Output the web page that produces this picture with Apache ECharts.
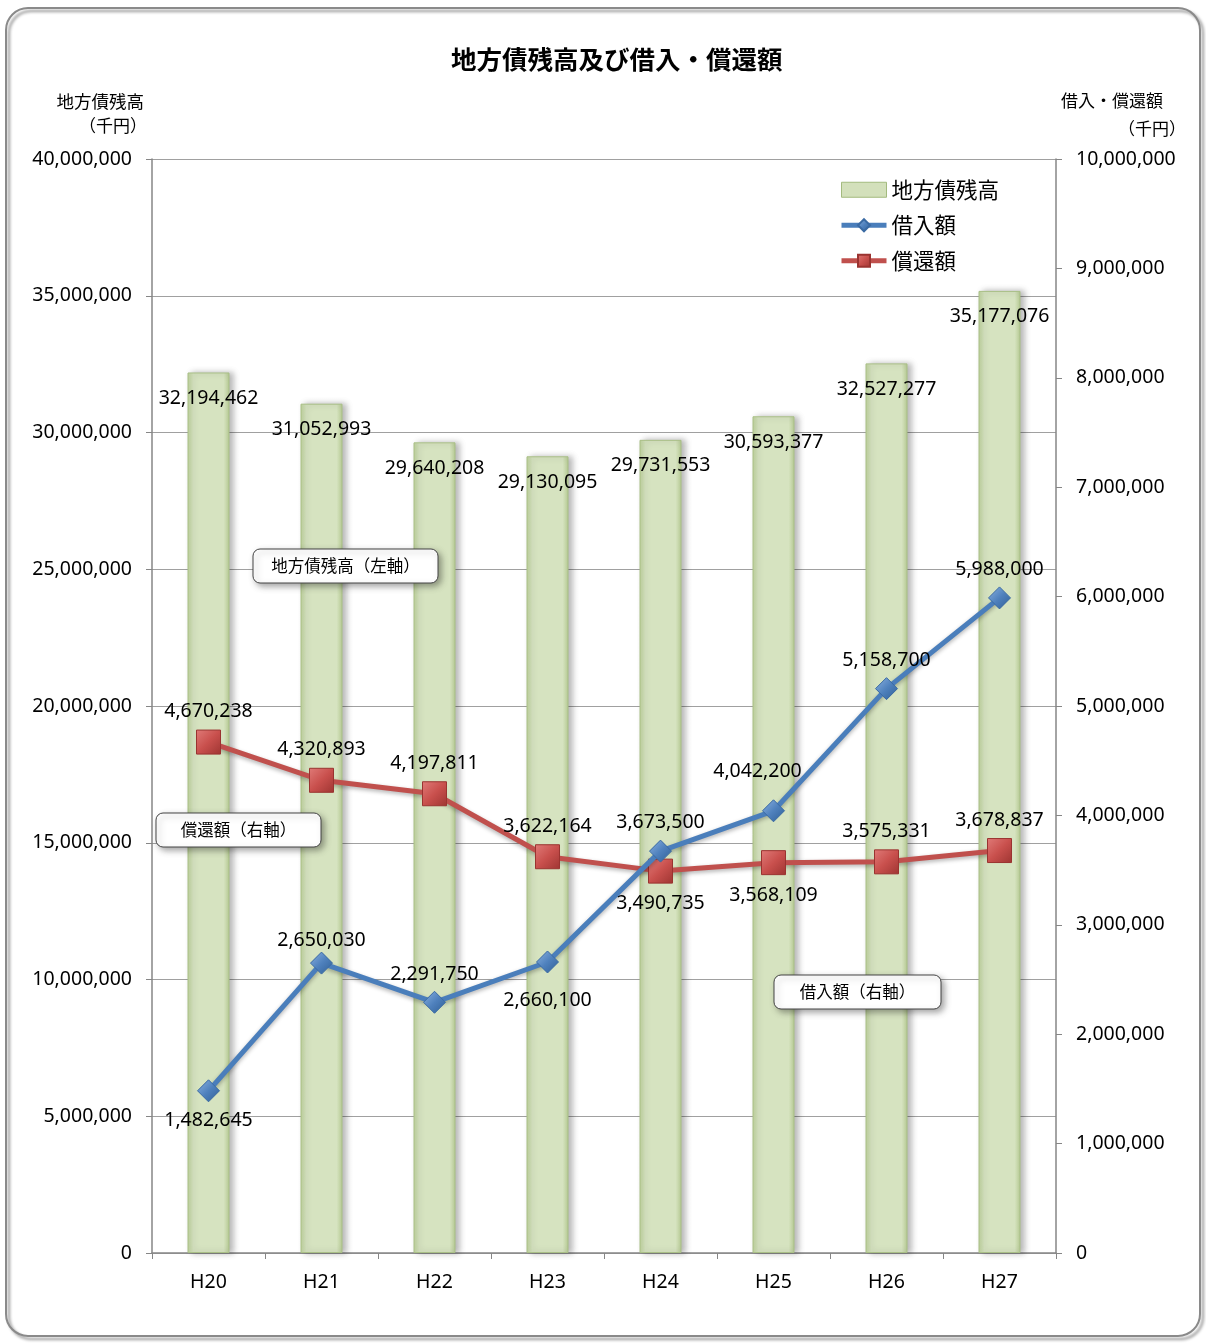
<!DOCTYPE html>
<html>
<head>
<meta charset="utf-8">
<script src="https://cdn.jsdelivr.net/npm/echarts@6/dist/echarts.min.js"></script>
<style>
  html, body { margin: 0; padding: 0; background: #fff; }
  #chart { width: 1206px; height: 1344px; }
</style>
</head>
<body>
<div id="chart"></div>
<script>
// 年度
const years = ['H20', 'H21', 'H22', 'H23', 'H24', 'H25', 'H26', 'H27'];
// 地方債残高（千円・左軸）
const debtBalance = [32194462, 31052993, 29640208, 29130095, 29731553, 30593377, 32527277, 35177076];
// 借入額（千円・右軸）
const borrowing = [1482645, 2650030, 2291750, 2660100, 3673500, 4042200, 5158700, 5988000];
// 償還額（千円・右軸）
const repayment = [4670238, 4320893, 4197811, 3622164, 3490735, 3568109, 3575331, 3678837];
// 軸目盛
const leftAxisMax = 40000000, leftAxisStep = 5000000;
const rightAxisMax = 10000000, rightAxisStep = 1000000;

const JP = '"Noto Sans CJK JP", "Noto Sans", sans-serif';
const NUM = '"Noto Sans", "Liberation Sans", sans-serif';
const fmt = v => Number(v).toLocaleString('en-US');

// ラベルの配置（上／下）とずらし量
const borrowPlace = ['bottom', 'top', 'top', 'bottom', 'top', 'top', 'top', 'top'];
const borrowShift = [[0, 3], [0, 4], [0, -1], [0, 12], [0, -2], [-16, -13], [0, -2], [0, -2]];
const repayPlace = ['top', 'top', 'top', 'top', 'bottom', 'bottom', 'top', 'top'];
const repayShift = [[0, 1], [0, 1], [0, 1], [0, 1], [0, 1], [0, 1], [0, 1], [0, 1]];

function withLabels(values, places, shifts) {
  return values.map((v, i) => ({
    value: v,
    label: { position: places[i], offset: shifts[i] }
  }));
}

const chart = echarts.init(document.getElementById('chart'), null, { renderer: 'canvas' });

function note(x, y, w, h, text) {
  return {
    type: 'group', x: x, y: y, z: 50,
    children: [
      { type: 'rect', z: 50, shape: { x: 0, y: 0, width: w, height: h, r: 7 },
        style: { fill: '#fff', stroke: '#444', lineWidth: 1,
                 shadowBlur: 6, shadowOffsetX: 3, shadowOffsetY: 3, shadowColor: 'rgba(0,0,0,0.35)' } },
      { type: 'text', z: 51, x: w / 2, y: h / 2,
        style: { text: text, font: '16.5px ' + JP, fill: '#000', align: 'center', verticalAlign: 'middle' } }
    ]
  };
}

const option = {
  backgroundColor: '#fff',
  animation: false,
  title: {
    text: '地方債残高及び借入・償還額',
    left: 446, top: 42,
    textStyle: { fontFamily: JP, fontSize: 25.5, fontWeight: 'bold', color: '#000' }
  },
  legend: {
    orient: 'vertical', left: 834, top: 174,
    itemWidth: 45, itemHeight: 15, itemGap: 14,
    textStyle: { fontFamily: JP, fontSize: 21.5, color: '#000' },
    data: [
      { name: '地方債残高', icon: 'rect', itemStyle: { color: '#d3e0bb', borderColor: '#a3ba7e', borderWidth: 1 } },
      { name: '借入額', lineStyle: { width: 5 } },
      { name: '償還額', lineStyle: { width: 5 } }
    ]
  },
  grid: { left: 152, right: 150, top: 159, bottom: 91, containLabel: false },
  xAxis: {
    type: 'category', data: years,
    axisLine: { lineStyle: { color: '#868686', width: 1.5 } },
    axisTick: { show: true, length: 6, lineStyle: { color: '#868686' } },
    axisLabel: { fontFamily: NUM, fontSize: 19.5, color: '#000', margin: 19 }
  },
  yAxis: [
    {
      type: 'value', min: 0, max: leftAxisMax, interval: leftAxisStep, position: 'left',
      axisLine: { show: true, lineStyle: { color: '#868686', width: 1.5 } },
      axisTick: { show: true, length: 6, lineStyle: { color: '#868686' } },
      axisLabel: { fontFamily: NUM, fontSize: 19.5, color: '#000', margin: 20, formatter: fmt },
      splitLine: { show: true, lineStyle: { color: '#a0a0a0', width: 1.2 } }
    },
    {
      type: 'value', min: 0, max: rightAxisMax, interval: rightAxisStep, position: 'right',
      axisLine: { show: true, lineStyle: { color: '#868686', width: 1.5 } },
      axisTick: { show: true, length: 6, lineStyle: { color: '#868686' } },
      axisLabel: { fontFamily: NUM, fontSize: 19.5, color: '#000', margin: 20, formatter: fmt },
      splitLine: { show: false }
    }
  ],
  graphic: [
    // 外枠
    { type: 'rect', z: 100, silent: true,
      shape: { x: 6, y: 8, width: 1194, height: 1328, r: 22 },
      style: { fill: 'none', stroke: '#8a8a8a', lineWidth: 2,
               shadowBlur: 3, shadowOffsetX: 3, shadowOffsetY: 3, shadowColor: 'rgba(0,0,0,0.45)' } },
    // 軸タイトル
    { type: 'text', x: 144, y: 101, z: 50,
      style: { text: '地方債残高', font: '17.5px ' + JP, fill: '#000', align: 'right', verticalAlign: 'middle' } },
    { type: 'text', x: 147, y: 126, z: 50,
      style: { text: '（千円）', font: '17px ' + JP, fill: '#000', align: 'right', verticalAlign: 'middle' } },
    { type: 'text', x: 1163, y: 101, z: 50,
      style: { text: '借入・償還額', font: '17px ' + JP, fill: '#000', align: 'right', verticalAlign: 'middle' } },
    { type: 'text', x: 1186, y: 129, z: 50,
      style: { text: '（千円）', font: '17px ' + JP, fill: '#000', align: 'right', verticalAlign: 'middle' } },
    // 系列の注記
    note(253, 549, 185, 34, '地方債残高（左軸）'),
    note(156, 813, 165, 34, '償還額（右軸）'),
    note(774, 975, 167, 34, '借入額（右軸）')
  ],
  series: [
    {
      name: '地方債残高', type: 'bar', yAxisIndex: 0, barWidth: 42,
      data: debtBalance,
      itemStyle: {
        color: new echarts.graphic.LinearGradient(0, 0, 1, 0, [
          { offset: 0, color: '#bcd09a' },
          { offset: 0.14, color: '#d6e3c0' },
          { offset: 0.86, color: '#d6e3c0' },
          { offset: 1, color: '#b6ca93' }
        ]),
        borderColor: '#a9bf86', borderWidth: 1,
        shadowBlur: 6, shadowOffsetX: 4, shadowOffsetY: 0, shadowColor: 'rgba(0,0,0,0.28)'
      },
      label: {
        show: true, position: 'insideTop', distance: 16,
        fontFamily: NUM, fontSize: 19.5, color: '#000', formatter: p => fmt(p.value)
      },
      z: 2
    },
    {
      name: '借入額', type: 'line', yAxisIndex: 1,
      data: withLabels(borrowing, borrowPlace, borrowShift),
      symbol: 'diamond', symbolSize: 22,
      lineStyle: { color: '#4a7ebb', width: 5, shadowBlur: 4, shadowOffsetY: 2, shadowColor: 'rgba(0,0,0,0.3)' },
      itemStyle: {
        color: new echarts.graphic.LinearGradient(0, 0, 1, 1, [
          { offset: 0, color: '#8db3e2' },
          { offset: 0.5, color: '#4f81bd' },
          { offset: 1, color: '#2e5e95' }
        ]),
        borderColor: '#3a6aa3', borderWidth: 1
      },
      label: { show: true, distance: 5, fontFamily: NUM, fontSize: 19.5, color: '#000', formatter: p => fmt(p.value) },
      z: 5
    },
    {
      name: '償還額', type: 'line', yAxisIndex: 1,
      data: withLabels(repayment, repayPlace, repayShift),
      symbol: 'rect', symbolSize: 24,
      lineStyle: { color: '#c0504d', width: 5, shadowBlur: 4, shadowOffsetY: 2, shadowColor: 'rgba(0,0,0,0.3)' },
      itemStyle: {
        color: new echarts.graphic.LinearGradient(0, 0, 1, 1, [
          { offset: 0, color: '#e07b78' },
          { offset: 0.5, color: '#c9504d' },
          { offset: 1, color: '#9e3532' }
        ]),
        borderColor: '#9a3330', borderWidth: 1
      },
      label: { show: true, distance: 9, fontFamily: NUM, fontSize: 19.5, color: '#000', formatter: p => fmt(p.value) },
      z: 4
    }
  ]
};

chart.setOption(option);
</script>
</body>
</html>
